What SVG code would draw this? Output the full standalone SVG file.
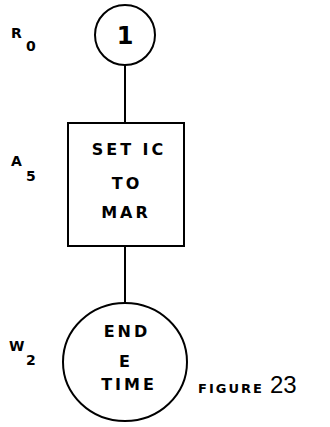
<svg xmlns="http://www.w3.org/2000/svg" width="330" height="427" viewBox="0 0 330 427">
<style>
.shape{fill:#fff;stroke:#000;stroke-width:2}
.conn{stroke:#000;stroke-width:2;fill:none}
.t{font-family:"DejaVu Sans",sans-serif;font-weight:bold;font-size:16px;fill:#000;text-anchor:middle;letter-spacing:3px}
.lbl{font-family:"DejaVu Sans",sans-serif;font-weight:bold;font-size:14px;fill:#000}
.num{font-family:"DejaVu Sans",sans-serif;font-weight:bold;font-size:24px;fill:#000;text-anchor:middle}
</style>
<rect width="330" height="427" fill="#fff"/>
<g id="connectors">
<line class="conn" x1="125" y1="65" x2="125" y2="123"/>
<line class="conn" x1="125" y1="246" x2="125" y2="303"/>
</g>
<g id="R0">
<circle class="shape" cx="125" cy="35" r="30"/>
<text class="num" x="125" y="44">1</text>
<text class="lbl" x="11" y="38">R</text>
<text class="lbl" x="26" y="51">0</text>
</g>
<g id="A5">
<rect class="shape" x="68" y="123" width="116" height="123"/>
<text class="t" x="129" y="155">SET IC</text>
<text class="t" x="127" y="189">TO</text>
<text class="t" x="126" y="218">MAR</text>
<text class="lbl" x="11" y="166">A</text>
<text class="lbl" x="26" y="181">5</text>
</g>
<g id="W2">
<ellipse class="shape" cx="125" cy="362" rx="62" ry="59"/>
<text class="t" x="127" y="337">END</text>
<text class="t" x="126" y="367">E</text>
<text class="t" x="129" y="390">TIME</text>
<text class="lbl" x="9" y="351">W</text>
<text class="lbl" x="26" y="365">2</text>
</g>
<text class="lbl" x="198" y="393" style="letter-spacing:2px;font-size:13px">FIGURE</text>
<text x="270" y="393" style="font-family:'Liberation Sans',sans-serif;font-size:24px">23</text>
</svg>
